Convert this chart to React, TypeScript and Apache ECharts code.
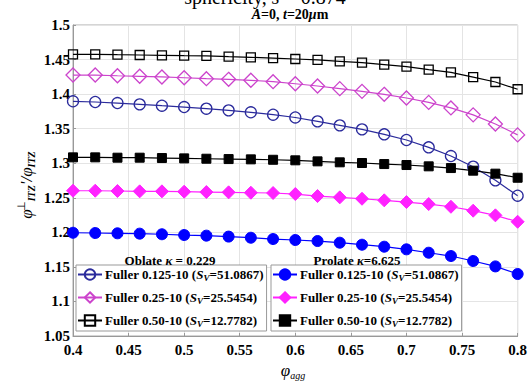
import React, { useEffect, useRef } from "react";
import * as echarts from "echarts";

const xValues = [0.4, 0.42, 0.44, 0.46, 0.48, 0.5, 0.52, 0.54, 0.56, 0.58, 0.6, 0.62, 0.64, 0.66, 0.68, 0.7, 0.72, 0.74, 0.76, 0.78, 0.8];

const oblate0125 = [1.3896, 1.3886, 1.3871, 1.3852, 1.3832, 1.3813, 1.3789, 1.3765, 1.3737, 1.3702, 1.3662, 1.3606, 1.3548, 1.349, 1.3418, 1.3336, 1.323, 1.3104, 1.295, 1.2752, 1.253];
const oblate025 = [1.4276, 1.4276, 1.4266, 1.4258, 1.4248, 1.4237, 1.4223, 1.4214, 1.42, 1.418, 1.415, 1.4117, 1.4079, 1.404, 1.3997, 1.3944, 1.388, 1.38, 1.37, 1.3567, 1.341];
const oblate050 = [1.4576, 1.4576, 1.457, 1.4566, 1.4561, 1.4556, 1.4552, 1.4541, 1.4532, 1.4522, 1.4508, 1.4494, 1.4475, 1.4455, 1.4426, 1.4397, 1.4353, 1.4315, 1.4247, 1.4175, 1.407];
const prolate0125 = [1.1994, 1.199, 1.1986, 1.1981, 1.1972, 1.1961, 1.1952, 1.1938, 1.1922, 1.1903, 1.1889, 1.1874, 1.185, 1.1821, 1.1792, 1.1754, 1.1705, 1.1657, 1.1585, 1.1507, 1.1397];
const prolate025 = [1.2602, 1.2602, 1.2598, 1.2593, 1.2593, 1.2588, 1.2583, 1.2579, 1.2573, 1.2569, 1.2554, 1.2525, 1.2506, 1.2486, 1.2463, 1.2438, 1.2409, 1.237, 1.2313, 1.2246, 1.2153];
const prolate050 = [1.3085, 1.3085, 1.308, 1.308, 1.3075, 1.307, 1.3065, 1.306, 1.3056, 1.305, 1.3042, 1.3027, 1.3013, 1.3003, 1.2988, 1.2974, 1.2955, 1.293, 1.2892, 1.2849, 1.279];

const gradings = ["0.125-10", "0.25-10", "0.50-10"];
const svValues = ["51.0867", "25.5454", "12.7782"];

const SERIF = "'Liberation Serif', 'Times New Roman', serif";

function pairs(ys: number[]) {
  return xValues.map((x, i) => [x, ys[i]]);
}

export default function App() {
  const ref = useRef<HTMLDivElement>(null);
  useEffect(() => {
    if (!ref.current) return;
    const chart = echarts.init(ref.current, undefined, { renderer: "svg" });

    const openCircleColor = "#2b2b9c";
    const openDiamondColor = "#cc44cc";
    const filledBlue = "#0000ff";
    const filledMagenta = "#ff22ff";

    const mk = (
      name: string,
      ys: number[],
      color: string,
      symbol: string,
      size: number,
      filled: boolean
    ) => ({
      type: "line",
      name,
      data: pairs(ys),
      symbol,
      symbolSize: size,
      showAllSymbol: true,
      lineStyle: { color, width: 1.2 },
      itemStyle: filled
        ? { color, borderColor: color, borderWidth: 1 }
        : { color: "rgba(255,255,255,0)", borderColor: color, borderWidth: 1.3 },
      emphasis: { disabled: true },
      z: 3,
    });

    const names = [
      "ob0", "ob1", "ob2", "pr0", "pr1", "pr2",
    ];
    const labelFor = (n: string) => {
      const idx = Number(n.slice(2));
      return `{b|Fuller ${gradings[idx]} (}{i|S}{sub|V}{b|=${svValues[idx]})}`;
    };

    const legendRich = {
      b: { fontFamily: SERIF, fontWeight: "bold", fontSize: 13, color: "#000" },
      i: { fontFamily: SERIF, fontWeight: "bold", fontStyle: "italic", fontSize: 13, color: "#000" },
      sub: { fontFamily: SERIF, fontWeight: "bold", fontStyle: "italic", fontSize: 9, color: "#000", verticalAlign: "bottom", padding: [6, 0, 0, 0] },
    };

    const legendCommon = {
      orient: "vertical",
      itemWidth: 24,
      itemHeight: 13,
      itemGap: 9,
      backgroundColor: "#fff",
      borderColor: "#999",
      borderWidth: 1,
      padding: [3, 3, 3, 1],
      formatter: labelFor,
      textStyle: { rich: legendRich, padding: [0, 0, 0, -2] },
      selectedMode: false,
    };

    const option = {
      animation: false,
      backgroundColor: "#fff",
      grid: {
        left: 73,
        right: 11,
        top: 25,
        bottom: 45,
        show: true,
        borderColor: "#aaa",
        borderWidth: 1,
        backgroundColor: "transparent",
      },
      xAxis: {
        type: "value",
        min: 0.4,
        max: 0.8,
        interval: 0.05,
        axisLine: { show: true, lineStyle: { color: "#999" } },
        axisTick: { show: true, inside: true, length: 3, lineStyle: { color: "#999" } },
        splitLine: { show: true, lineStyle: { color: "#e4e4e4", width: 1 } },
        axisLabel: {
          color: "#000",
          fontFamily: SERIF,
          fontWeight: "bold",
          fontSize: 15,
          margin: 6,
          formatter: (v: number) => String(Number(v.toFixed(2))),
        },
      },
      yAxis: {
        type: "value",
        min: 1.05,
        max: 1.5,
        interval: 0.05,
        axisLine: { show: true, lineStyle: { color: "#999" } },
        axisTick: { show: true, inside: true, length: 3, lineStyle: { color: "#999" } },
        splitLine: { show: true, lineStyle: { color: "#e4e4e4", width: 1 } },
        axisLabel: {
          color: "#000",
          fontFamily: SERIF,
          fontWeight: "bold",
          fontSize: 15,
          margin: 3,
          formatter: (v: number) => String(Number(v.toFixed(2))),
        },
      },
      legend: [
        {
          ...legendCommon,
          data: ["ob0", "ob1", "ob2"],
          left: 76,
          top: 265,
        },
        {
          ...legendCommon,
          data: ["pr0", "pr1", "pr2"],
          left: 271,
          top: 265,
        },
      ],
      graphic: [
        {
          type: "text",
          left: "center",
          top: -13,
          style: {
            text: "{n|sphericity, }{i|s}{n| = 0.874}",
            rich: {
              n: { fontFamily: SERIF, fontSize: 20, fill: "#000" },
              i: { fontFamily: SERIF, fontSize: 20, fontStyle: "italic", fill: "#000" },
            },
          },
          z: 10,
        },
        {
          type: "text",
          x: 290,
          y: 14,
          style: {
            text: "{i|A}{b|=0, }{i|t}{b|=20}{i|μ}{b|m}",
            align: "center",
            verticalAlign: "middle",
            rich: {
              b: { fontFamily: SERIF, fontSize: 14, fontWeight: "bold", fill: "#000" },
              i: { fontFamily: SERIF, fontSize: 14, fontWeight: "bold", fontStyle: "italic", fill: "#000" },
            },
          },
          z: 10,
        },
        {
          type: "text",
          x: 170,
          y: 260,
          style: {
            text: "{b|Oblate }{i|κ}{b| = 0.229}",
            align: "center",
            verticalAlign: "middle",
            rich: {
              b: { fontFamily: SERIF, fontSize: 13, fontWeight: "bold", fill: "#000" },
              i: { fontFamily: SERIF, fontSize: 13, fontWeight: "bold", fontStyle: "italic", fill: "#000" },
            },
          },
          z: 10,
        },
        {
          type: "text",
          x: 357,
          y: 260,
          style: {
            text: "{b|Prolate }{i|κ}{b|=6.625}",
            align: "center",
            verticalAlign: "middle",
            rich: {
              b: { fontFamily: SERIF, fontSize: 13, fontWeight: "bold", fill: "#000" },
              i: { fontFamily: SERIF, fontSize: 13, fontWeight: "bold", fontStyle: "italic", fill: "#000" },
            },
          },
          z: 10,
        },
        {
          type: "text",
          x: 293,
          y: 370,
          style: {
            text: "{p|φ}{s|agg}",
            align: "center",
            verticalAlign: "middle",
            rich: {
              p: { fontFamily: SERIF, fontSize: 17, fontStyle: "italic", fill: "#000" },
              s: { fontFamily: SERIF, fontSize: 10, fontStyle: "italic", fill: "#000", verticalAlign: "bottom", padding: [10, 0, 0, 0] },
            },
          },
          z: 10,
        },
        {
          type: "text",
          x: 26,
          y: 185,
          rotation: Math.PI / 2,
          style: {
            text: "{p|φ}{sup|⊥}{s|ITZ}{p|'/φ}{s|ITZ}",
            align: "center",
            verticalAlign: "middle",
            rich: {
              p: { fontFamily: SERIF, fontSize: 17, fontStyle: "italic", fill: "#000" },
              sup: { fontFamily: SERIF, fontSize: 11, fill: "#000", verticalAlign: "top", padding: [0, 0, 10, -2] },
              s: { fontFamily: SERIF, fontSize: 10, fontStyle: "italic", fontWeight: "bold", fill: "#000", verticalAlign: "bottom", padding: [10, 0, 0, 0] },
            },
          },
          z: 10,
        },
      ],
      series: [
        mk(names[0], oblate0125, openCircleColor, "circle", 11, false),
        mk(names[1], oblate025, openDiamondColor, "diamond", 14, false),
        mk(names[2], oblate050, "#000", "rect", 9, false),
        mk(names[3], prolate0125, filledBlue, "circle", 11, true),
        mk(names[4], prolate025, filledMagenta, "diamond", 13, true),
        mk(names[5], prolate050, "#000", "rect", 9, true),
      ],
    };

    chart.setOption(option as any);
    return () => chart.dispose();
  }, []);

  return <div ref={ref} style={{ width: 530, height: 381, position: "absolute", left: 0, top: 0 }} />;
}
